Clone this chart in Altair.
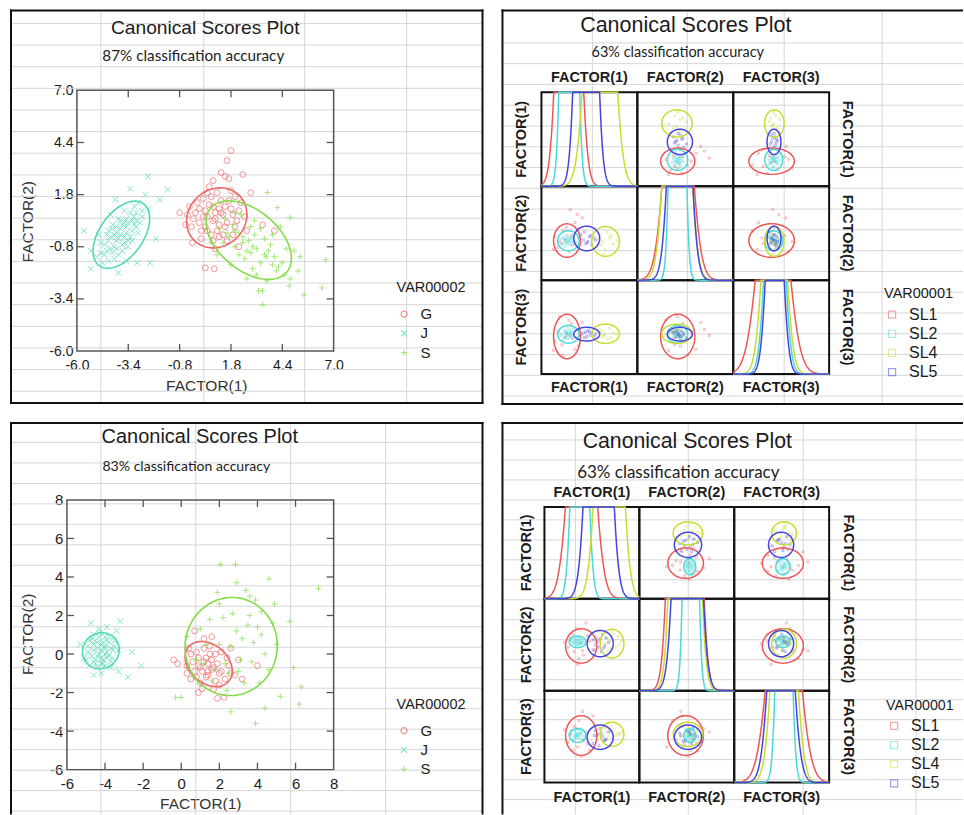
import numpy as np
import pandas as pd
import altair as alt

# ----------------------------------------------------------------- texts
TITLE = "Canonical Scores Plot"
SUB_TL = "87% classification accuracy"
SUB_TR = "63% classification accuracy"
SUB_BL = "83% classification accuracy"
SUB_BR = "63% classification accuracy"
AXIS_X = "FACTOR(1)"
AXIS_Y = "FACTOR(2)"
FACTORS = ["FACTOR(1)", "FACTOR(2)", "FACTOR(3)"]

SC_LEGEND = "VAR00002"
SC_GROUPS = ["G", "J", "S"]
SL_LEGEND = "VAR00001"
SL_GROUPS = ["SL1", "SL2", "SL4", "SL5"]

TL_TICKS = [-6.0, -3.4, -0.8, 1.8, 4.4, 7.0]
BL_TICKS = [-6, -4, -2, 0, 2, 4, 6, 8]

# ----------------------------------------------------------------- top-left scores (x, y)
TL_G = [(1.0, 0.6), (0.5, 1.0), (1.5, 0.2), (0.2, 0.4), (1.8, 1.1), (0.8, -0.2), (1.3, 1.5), (0.0, 0.9),
        (2.1, 0.5), (0.6, 0.0), (1.1, 1.9), (-0.2, 0.2), (1.6, -0.5), (0.9, 1.2), (1.4, 0.8), (0.3, -0.4),
        (2.3, 1.4), (0.7, 2.2), (1.9, -0.2), (-0.4, 0.8), (1.2, 0.3), (0.4, 1.6), (1.7, 2.6), (1.3, 2.9),
        (2.4, 2.8), (1.8, 4.0), (1.6, 3.5), (0.9, 2.5), (0.5, -1.85), (0.95, -1.9), (2.6, 0.0), (-0.15, -0.6),
        (1.0, -0.9), (2.2, -0.8), (0.1, 1.4), (3.4, 0.3), (2.8, 1.9), (4.0, 0.0), (-0.8, 0.9), (1.5, 2.7),
        (0.6, 0.7), (1.2, -0.3), (2.0, 1.7), (-0.5, 0.3), (0.9, 0.5), (1.3, 0.9), (0.4, 0.7), (1.6, 0.4),
        (0.7, 1.3), (1.9, 0.8), (0.2, 1.1), (1.1, 0.0), (1.5, 1.2), (0.5, 0.2), (2.2, 1.0), (0.8, 1.7),
        (1.0, 0.9), (1.7, 1.5), (0.3, 0.0), (1.4, -0.2), (0.6, 1.9), (2.0, 0.2), (1.2, 1.1), (-0.1, 0.6),
        (0.9, -0.5), (1.8, 2.0), (2.5, 0.7), (-0.3, 1.2)]
TL_J = [(-3.8, -0.2), (-4.3, -0.9), (-3.2, 0.5), (-4.6, -1.2), (-3.5, 0.2), (-4.0, -0.5), (-3.0, 0.9),
        (-4.8, -0.6), (-3.7, -1.0), (-3.3, -0.3), (-4.2, 0.3), (-2.8, 0.4), (-3.9, 0.6), (-4.5, -0.2),
        (-3.6, -0.6), (-3.1, 1.2), (-4.1, -1.4), (-3.4, -0.8), (-2.9, -0.1), (-4.7, -1.6), (-3.8, 0.1),
        (-4.4, 0.0), (-3.2, -0.5), (-3.6, 1.0), (-4.0, -0.9), (-5.3, -1.0), (-5.3, -1.9), (-3.3, 2.1),
        (-2.55, 1.8), (-2.4, 2.7), (-1.4, 2.05), (-1.8, 1.55), (-4.05, 1.55), (-3.9, -2.1), (-2.95, -1.6),
        (-2.3, -1.6), (-5.65, 0.0), (-2.4, 1.1), (-3.5, -1.5), (-4.9, -0.2), (-2.7, 0.7), (-4.3, 0.8),
        (-2.0, -0.4), (-5.0, -1.3), (-3.0, 0.2), (-4.2, -1.1), (-3.4, 0.4), (-3.9, -0.4), (-4.5, -1.0),
        (-3.1, 0.7), (-3.7, 0.3), (-4.3, -0.3), (-3.5, -0.1), (-4.0, 0.2), (-3.3, 0.9), (-4.6, -0.7),
        (-3.9, -1.2), (-2.9, 1.4), (-3.6, -0.3), (-4.1, -0.2), (-3.2, 0.0), (-4.4, -1.5), (-3.0, 0.5),
        (-3.8, 0.5), (-4.2, 0.1), (-3.5, 0.6), (-4.8, -1.1), (-3.4, -0.5), (-2.7, 1.0), (-4.0, -0.1),
        (-3.7, -0.7), (-4.4, -0.5), (-3.1, 0.3), (-3.6, 0.4), (-4.1, -0.8)]
TL_S = [(2.7, -0.5), (3.5, -1.2), (1.9, 0.3), (4.2, -1.8), (2.2, -0.1), (3.1, -0.9), (1.5, 0.6), (3.8, -0.7),
        (2.5, -1.4), (4.5, -2.2), (2.0, -0.8), (3.3, 0.1), (1.7, -0.3), (4.0, -1.3), (2.9, -1.9), (3.6, -2.5),
        (2.3, 0.8), (4.6, -0.9), (1.2, 0.1), (3.0, 0.5), (2.6, -2.4), (5.0, -1.0), (4.75, -2.75), (5.5, -3.2),
        (6.4, -2.85), (3.4, -3.0), (3.4, -3.7), (6.6, -1.45), (1.1, -1.2), (4.8, 0.65), (3.65, 1.9),
        (4.15, 1.15), (0.8, -0.6), (4.3, 0.2), (3.2, -3.0), (1.8, -1.7), (5.2, -2.0), (2.4, -0.3),
        (3.9, -0.2), (2.8, -1.1), (2.9, -0.8), (3.3, -1.6), (2.4, -0.6), (3.7, -1.0), (2.0, 0.0), (4.1, -2.0),
        (3.0, -0.2), (2.6, -1.0), (3.5, -0.4), (1.6, -0.1), (4.4, -1.6), (2.8, 0.2), (3.9, -1.7), (2.2, -1.2),
        (3.1, -2.2), (4.8, -2.4), (1.4, -0.6), (3.6, -1.3), (5.3, -1.3), (2.0, 0.9)]
# ellipses: group, centre x, centre y, semi-axis a, semi-axis b, angle (deg)
TL_ELL = [("G", 1.08, 0.64, 1.6, 1.42, 40), ("J", -3.75, -0.2, 1.91, 1.1, 54), ("S", 2.7, -0.47, 2.5, 1.5, -39)]

# ----------------------------------------------------------------- bottom-left scores (x, y)
BL_G = [(1.4, -0.5), (0.8, 0.1), (2.0, -1.0), (1.1, -0.9), (1.8, 0.0), (0.6, -0.4), (2.3, -1.3), (1.5, 0.4),
        (1.0, -1.5), (2.5, -0.6), (0.4, 0.3), (1.7, -1.8), (1.2, 0.8), (0.3, -1.0), (2.8, -1.1), (1.9, -2.3),
        (2.25, -2.25), (0.9, -2.0), (-0.4, -0.3), (-0.2, -0.5), (3.2, -1.3), (1.6, 0.9), (0.7, 1.2), (2.6, 0.3),
        (4.0, -0.6), (1.3, -0.2), (1.7, -0.7), (0.9, -0.6), (2.1, 0.1), (1.4, -1.1), (0.5, -1.3), (3.0, -0.3),
        (1.2, -0.4), (1.6, -0.8), (0.9, -0.2), (1.9, -0.5), (1.3, -1.2), (0.7, -0.9), (2.1, -0.9), (1.5, 0.0),
        (1.0, -0.7), (1.8, -1.4), (0.5, 0.0), (2.4, -0.2), (1.1, -1.8), (1.6, -0.3), (0.8, -1.2), (2.0, -1.6),
        (1.4, -0.9), (1.2, 0.3), (0.3, -0.6), (2.6, -1.0)]
BL_J = [(-4.2, 0.2), (-4.6, 0.5), (-3.9, -0.2), (-4.5, -0.3), (-3.8, 0.6), (-4.9, 0.1), (-4.0, 0.9),
        (-4.4, -0.7), (-3.6, 0.2), (-4.7, 0.8), (-4.1, -0.5), (-3.7, -0.4), (-5.1, -0.2), (-4.3, 1.1),
        (-3.5, 0.7), (-4.8, -0.6), (-4.0, 0.4), (-4.75, 1.6), (-3.2, 1.7), (-2.8, -1.2), (-2.1, -0.6),
        (-3.3, -0.9), (-5.3, 0.5), (-4.6, -1.1), (-3.4, 1.2), (-4.2, -1.0), (-3.9, 1.4), (-2.6, 0.1),
        (-4.4, 0.3), (-3.9, 0.1), (-4.2, -0.2), (-4.5, 0.7), (-4.3, 0.0), (-4.0, 0.3), (-4.6, 0.2),
        (-3.8, -0.1), (-4.4, 0.6), (-4.1, -0.3), (-4.7, -0.1), (-3.9, 0.7), (-4.5, -0.5), (-4.2, 0.5),
        (-3.7, 0.3), (-4.9, 0.4), (-4.0, -0.6), (-4.3, 0.9), (-3.6, -0.2), (-4.6, -0.4), (-4.1, 0.6),
        (-3.8, 0.9), (-4.8, 0.7), (-4.4, -0.1), (-3.5, 0.4), (-4.2, -0.5), (-4.0, 0.0), (-4.6, 1.0),
        (-3.3, 0.2), (-5.0, -0.3), (-3.7, -0.7), (-4.3, 1.3)]
BL_S = [(2.6, 0.4), (3.5, 1.5), (1.8, -0.8), (3.9, 2.8), (2.2, 1.9), (4.4, 0.0), (1.3, 0.5), (3.0, -0.9),
        (4.8, 1.6), (2.0, 2.6), (3.4, 3.3), (1.6, -1.4), (4.1, -1.5), (2.9, 3.7), (0.8, -0.3), (5.0, 0.5),
        (3.7, -0.4), (2.4, -1.9), (5.7, 1.7), (2.05, 4.65), (2.85, 4.65), (7.2, 3.4), (3.9, -3.6), (2.6, -3.0),
        (6.2, -2.6), (-0.3, -2.25), (0.0, -2.25), (6.3, -1.7), (5.2, -2.2), (4.6, 3.9), (3.6, 2.0), (1.0, 1.3),
        (4.4, -2.8), (5.9, -0.7), (0.3, 0.9), (3.2, 0.8), (2.3, -0.5), (4.2, 1.0), (2.9, 1.2), (3.8, 0.6),
        (2.0, 0.5), (4.2, 2.2), (3.1, -0.3), (1.5, 1.8), (4.6, -0.8), (2.7, 2.1), (3.3, -1.5), (1.9, 3.2),
        (4.0, 1.4), (2.5, -1.0), (3.6, 3.0), (1.2, -0.5), (4.9, 2.6)]
BL_ELL = [("G", 1.44, -0.52, 1.38, 1.0, -40), ("J", -4.22, 0.17, 0.98, 0.92, 30), ("S", 2.62, 0.39, 2.55, 2.42, 80)]

# ----------------------------------------------------------------- top-right scores (F1, F2, F3)
TR_SL1 = [(-2.3, -0.9, -1.5), (-1.5, -0.2, 0.3), (-2.6, -1.2, -0.4), (-1.2, 0.9, -1.9), (-2.0, -0.5, -0.9),
          (-1.7, -1.6, 0.6), (-2.9, -0.3, -1.2), (-1.0, 1.6, -0.2), (-2.2, 0.2, -2.4), (-1.4, -1.0, -1.0),
          (-0.6, 1.3, 0.4), (-2.5, -0.7, 0.9), (-1.9, 0.5, -0.6), (-3.0, -1.4, -2.0), (-1.6, 2.0, -0.7),
          (-0.9, -0.4, -1.6)]
TR_SL2 = [(-1.9, -0.8, -0.5), (-1.5, -0.4, -0.9), (-2.1, -0.6, -0.3), (-1.6, -1.0, -0.7), (-1.8, -0.3, -1.0),
          (-2.3, -0.9, -0.6), (-1.3, -0.7, -0.2), (-1.7, -0.5, -0.8), (-2.0, -1.1, -0.4), (-1.4, -0.2, -0.6),
          (-2.2, -0.4, -1.1), (-1.8, -0.9, -0.1), (-1.6, -0.6, -0.5), (-1.1, -0.8, -0.9), (-2.4, -0.5, -0.7),
          (-1.9, -0.2, -0.4), (-1.7, -0.7, -0.6), (-2.0, -0.5, -0.8), (-1.5, -0.8, -0.4), (-1.9, -0.6, -0.7),
          (-1.6, -0.4, -0.3), (-2.1, -0.8, -0.9), (-1.8, -0.7, -0.5), (-1.4, -0.5, -0.7)]
TR_SL4 = [(1.0, -1.0, -0.3), (1.8, -0.2, -0.9), (1.3, -1.4, -0.6), (0.7, -0.5, -0.2), (2.0, -0.9, -0.5),
          (1.5, 0.1, -1.0), (1.1, -0.7, -0.8), (0.6, -1.2, -0.4), (1.7, -0.4, -0.1), (1.2, -1.8, -0.7),
          (2.3, -0.6, -0.6), (0.9, -0.1, -0.5)]
TR_SL5 = [(-0.5, -0.6, -0.5), (0.1, -0.2, -0.7), (-0.3, -0.9, -0.4), (0.4, -0.4, -0.8), (-0.7, -0.1, -0.6),
          (-0.1, -0.7, -0.3), (-0.4, 0.1, -0.9), (0.2, -1.0, -0.5), (-0.8, -0.5, -0.7), (0.0, -0.3, -0.4),
          (-0.2, -0.8, -0.8), (0.5, -0.6, -0.6)]
TR_MEAN = {"SL1": (-1.87, -0.63, -0.8), "SL2": (-1.75, -0.65, -0.62),
           "SL4": (1.35, -0.7, -0.57), "SL5": (-0.22, -0.45, -0.6)}
TR_RADIUS = {"SL1": (1.12, 1.43, 1.9), "SL2": (0.9, 0.85, 0.75),
             "SL4": (1.16, 1.27, 0.82), "SL5": (1.08, 1.05, 0.58)}
# diagonal curves per factor: group -> (centre, half width at top of cell, softness)
TR_DIAG = [
    {"SL1": (-1.72, 1.25, 0.66), "SL2": (-1.68, 0.875, 0.42), "SL4": (0.875, 1.49, 0.83), "SL5": (-0.27, 1.125, 0.57)},
    {"SL1": (-0.6, 1.35, 0.89), "SL2": (-0.65, 0.79, 0.38), "SL4": (-0.68, 1.29, 0.75), "SL5": (-0.47, 1.11, 0.66)},
    {"SL1": (-0.68, 1.49, 1.07), "SL2": (-0.53, 0.94, 0.61), "SL4": (-0.58, 1.11, 0.72), "SL5": (-0.54, 0.79, 0.55)},
]

# ----------------------------------------------------------------- bottom-right scores (F1, F2, F3)
BR_SL1 = [(-1.5, -0.6, 0.9), (-0.4, 0.8, -0.6), (-1.1, -1.2, 1.4), (-0.2, 0.3, -1.2), (-1.8, 0.6, 0.2),
          (-0.7, -0.9, -0.3), (-1.3, 1.4, 0.7), (0.1, -0.4, 1.8), (-0.9, 0.1, -1.7), (-2.0, -0.2, -0.5),
          (-0.5, 1.9, 0.4), (-1.2, -1.7, -0.9), (0.4, 0.6, 0.1), (-1.6, 0.9, -1.2), (-0.8, -0.5, 2.2),
          (-2.3, 0.2, 0.6)]
BR_SL2 = [(-1.2, 0.3, 0.1), (-0.9, 0.1, 0.4), (-1.5, 0.5, -0.2), (-1.0, 0.6, 0.3), (-1.4, 0.0, 0.0),
          (-1.7, 0.3, 0.5), (-0.8, 0.4, -0.3), (-1.3, 0.7, 0.2), (-1.1, -0.1, 0.6), (-1.6, 0.2, -0.4),
          (-0.7, 0.2, 0.0), (-1.9, 0.4, 0.2), (-1.2, 0.0, -0.1), (-1.0, 0.5, 0.7), (-1.1, 0.2, 0.2),
          (-1.3, 0.4, 0.0), (-1.2, 0.1, 0.3), (-1.0, 0.3, -0.1), (-1.4, 0.3, 0.4), (-1.2, 0.5, 0.1),
          (-0.9, 0.2, 0.2), (-1.5, 0.1, 0.1)]
BR_SL4 = [(1.5, 0.3, 0.5), (2.0, -0.2, 0.1), (1.2, 0.6, -0.3), (1.8, 0.9, 0.6), (2.3, 0.0, 0.2), (1.4, -0.5, 0.0),
          (1.9, 0.4, -0.5), (1.1, 0.1, 0.8), (2.2, 0.7, 0.3), (1.6, -0.3, 0.9), (1.7, 1.2, -0.1), (2.5, 0.3, 0.4)]
BR_SL5 = [(0.5, 0.3, 0.2), (1.0, -0.3, -0.4), (0.3, 0.0, 0.5), (1.2, 0.6, -0.2), (0.8, -0.6, 0.3), (0.1, 0.4, -0.6),
          (0.9, 0.9, 0.0), (0.6, -0.2, -0.8), (1.4, 0.2, 0.4), (0.2, -0.5, 0.1), (0.7, 0.5, 0.7), (1.1, -0.1, -0.3)]
BR_MEAN = {"SL1": (-0.9, -0.1, 0.1), "SL2": (-1.2, 0.25, 0.1),
           "SL4": (1.7, 0.1, 0.2), "SL5": (0.7, 0.1, -0.05)}
BR_RADIUS = {"SL1": (1.32, 1.5, 1.73), "SL2": (0.7, 0.5, 0.6),
             "SL4": (1.0, 1.25, 1.05), "SL5": (1.1, 1.15, 1.06)}
BR_DIAG = [
    {"SL1": (-0.87, 1.36, 0.87), "SL2": (-1.02, 0.84, 0.49), "SL4": (1.46, 1.36, 0.76), "SL5": (0.57, 1.32, 0.71)},
    {"SL1": (-0.17, 1.64, 0.72), "SL2": (0.34, 0.74, 0.36), "SL4": (-0.13, 1.46, 0.67), "SL5": (0.04, 1.37, 0.7)},
    {"SL1": (0.18, 1.57, 1.06), "SL2": (0.19, 0.77, 0.42), "SL4": (0.21, 1.2, 0.75), "SL5": (-0.06, 1.2, 0.76)},
]

# ----------------------------------------------------------------- styles
FONT = "Liberation Sans"
SUBFONT = "Lato"
INK = "#1c1c1c"
GRID = "#d6d6d6"
FRAME = "#555555"
SC_COLORS = ["#ee6868", "#4ddcb2", "#84dc48"]
SC_SHAPES = ["circle", "M-1,-1L1,1M-1,1L1,-1", "M-1,0L1,0M0,-1L0,1"]
SL_COLORS = ["#ee5656", "#48dada", "#c8dc30", "#4444e0"]

ONE = pd.DataFrame({"k": [0]})

# page-pixel layout of the four pasted pictures (box = panel frame)
TL_LAY = dict(box=(10, 9, 482, 402), plot=(76, 89, 333, 350),
              segs=[(10, 9, 482, 9), (10, 9, 10, 402), (482, 9, 482, 402), (10, 402, 482, 402)],
              gv=[100, 203, 304, 406], gh0=22.0, ghs=21.66,
              title=(204.5, 27, 19.2), sub=(192.5, 55, 15.3),
              xt=(205.5, 384), yt=(27, 220), leg=(396, 280), lab=14)
BL_LAY = dict(box=(10, 422, 482, 814), plot=(66, 499, 333, 769),
              segs=[(10, 422, 482, 422), (10, 422, 10, 813), (482, 422, 482, 813)],
              gv=[100, 195, 290, 385], gh0=441.5, ghs=20.5,
              title=(199, 436, 20), sub=(185.5, 466, 14.1),
              xt=(199.5, 803), yt=(27, 633), leg=(396, 697), lab=15)
TR_LAY = dict(box=(502, 9, 963, 403), cell0=(541, 91), cw=96, ch=94,
              segs=[(502, 9, 962, 9), (502, 9, 502, 403), (502, 403, 962, 403)],
              gv=[592, 687, 784, 882], gh0=41.5, ghs=20.8,
              title=(685.5, 25, 21.5), sub=(677.5, 52, 14.5),
              top=77, bottom=387, left=522, right=847, leg=(884, 286), legfs=(14.5, 16))
BR_LAY = dict(box=(502, 422, 963, 814), cell0=(544, 506), cw=95, ch=92,
              segs=[(502, 422, 962, 422), (502, 422, 502, 813)],
              gv=[575, 688, 803, 916], gh0=439.0, ghs=20.0,
              title=(687, 441, 21.3), sub=(678, 472, 17),
              top=492, bottom=797, left=527, right=848, leg=(886, 698), legfs=(14.2, 16))


def text_at(txt, x, y, font, size, weight="normal", angle=0):
    return alt.Chart(pd.DataFrame({"t": [txt]})).mark_text(
        font=font, fontSize=size, fontWeight=weight, angle=angle, color=INK, align="center", baseline="middle"
    ).encode(text="t:N", x=alt.value(x), y=alt.value(y))


def deco_layers(lay, sub_text):
    """spreadsheet grid, panel frame and the two title lines, in panel pixels"""
    bx0, by0, bx1, by1 = lay["box"]
    W, H = bx1 - bx0, by1 - by0
    hs = [round(h - by0, 2) for h in np.arange(lay["gh0"], by1, lay["ghs"]) if h > by0 + 2]
    vs = [v - bx0 for v in lay["gv"]]
    xs = alt.Scale(domain=[0, W], range=[0, W], nice=False, zero=False)
    ys = alt.Scale(domain=[0, H], range=[0, H], nice=False, zero=False)
    gh = alt.Chart(pd.DataFrame({"gy": hs})).mark_rule(color=GRID, strokeWidth=1).encode(
        y=alt.Y("gy:Q", scale=ys, axis=None), x=alt.value(0), x2=alt.value(W))
    gv = alt.Chart(pd.DataFrame({"gx": vs})).mark_rule(color=GRID, strokeWidth=1).encode(
        x=alt.X("gx:Q", scale=xs, axis=None), y=alt.value(0), y2=alt.value(H))
    out = [gh, gv]
    for (x0, y0, x1, y1) in lay["segs"]:
        enc = dict(x=alt.value(x0 - bx0), y=alt.value(y0 - by0))
        if x1 != x0:
            enc["x2"] = alt.value(x1 - bx0)
        if y1 != y0:
            enc["y2"] = alt.value(y1 - by0)
        out.append(alt.Chart(ONE).mark_rule(color="#111111", strokeWidth=2, strokeCap="square").encode(**enc))
    tx, ty, tfs = lay["title"]
    sx, sy, sfs = lay["sub"]
    out.append(text_at(TITLE, tx - bx0, ty - by0, FONT, tfs))
    out.append(text_at(sub_text, sx - bx0, sy - by0, SUBFONT, sfs))
    return out


def ellipse_rows(grp, cx, cy, a, b, ang, n=96):
    t = np.linspace(0, 2 * np.pi, n + 1)
    th = np.deg2rad(ang)
    ex, ey = a * np.cos(t), b * np.sin(t)
    xs = cx + ex * np.cos(th) - ey * np.sin(th)
    ys = cy + ex * np.sin(th) + ey * np.cos(th)
    return [(grp, i, round(x, 4), round(y, 4)) for i, (x, y) in enumerate(zip(xs, ys))]


def scatter_panel(groups, ells, ticks, fmt, lay, sub_text):
    bx0, by0, bx1, by1 = lay["box"]
    W, H = bx1 - bx0, by1 - by0
    p0, q0, p1, q1 = lay["plot"]
    px0, py0, px1, py1 = p0 - bx0, q0 - by0, p1 - bx0, q1 - by0
    dom = [ticks[0], ticks[-1]]
    rows = [(g, x, y) for g, pts in zip(SC_GROUPS, groups) for (x, y) in pts]
    pts_df = pd.DataFrame(rows, columns=["grp", "x", "y"])
    ell_rows = []
    for (g, cx, cy, a, b, ang) in ells:
        ell_rows += ellipse_rows(g, cx, cy, a, b, ang)
    ell_df = pd.DataFrame(ell_rows, columns=["grp", "t", "x", "y"])
    xs = alt.Scale(domain=dom, range=[px0, px1], nice=False, zero=False)
    ys = alt.Scale(domain=dom, range=[py1, py0], nice=False, zero=False)
    expr = f"datum.value < 0 ? '-' + format(-datum.value, '{fmt}') : format(datum.value, '{fmt}')"
    common = dict(values=ticks, labelExpr=expr, ticks=False, domain=False, grid=False,
                  labelFont=FONT, labelFontSize=lay["lab"], labelColor=INK,
                  labelFlush=False, labelOverlap=False, labelBound=False,
                  titleFont=FONT, titleFontSize=15.5, titleFontWeight="normal", titleColor="#333333",
                  titleAlign="center", titleBaseline="middle")
    xa = alt.Axis(orient="bottom", offset=-(H - py1), labelPadding=7, title=AXIS_X,
                  titleX=lay["xt"][0] - bx0, titleY=lay["xt"][1] - q1, titleAngle=0, **common)
    ya = alt.Axis(orient="left", offset=-px0, labelPadding=4, title=AXIS_Y,
                  titleX=lay["yt"][0] - p0, titleY=lay["yt"][1] - by0, titleAngle=270, **common)
    cscale = alt.Scale(domain=SC_GROUPS, range=SC_COLORS)
    sscale = alt.Scale(domain=SC_GROUPS, range=SC_SHAPES)
    leg = alt.Legend(title=SC_LEGEND, orient="none", legendX=lay["leg"][0] - bx0, legendY=lay["leg"][1] - by0,
                     padding=0, titleFont=FONT, titleFontSize=14.5, titleFontWeight="normal", titleColor=INK,
                     titlePadding=11, labelFont=FONT, labelFontSize=15, labelColor=INK, labelOffset=9,
                     symbolSize=36, symbolStrokeWidth=1.2, rowPadding=3.3)
    inner = pd.DataFrame({"v": ticks[1:-1]})
    tick_style = dict(color=FRAME, strokeWidth=1.3)
    t_bottom = alt.Chart(inner).mark_rule(**tick_style).encode(
        x=alt.X("v:Q", scale=xs, axis=xa), y=alt.value(py1), y2=alt.value(py1 - 7))
    t_top = alt.Chart(inner).mark_rule(**tick_style).encode(
        x=alt.X("v:Q", scale=xs, axis=xa), y=alt.value(py0), y2=alt.value(py0 + 7))
    t_left = alt.Chart(inner).mark_rule(**tick_style).encode(
        y=alt.Y("v:Q", scale=ys, axis=ya), x=alt.value(px0), x2=alt.value(px0 + 7))
    t_right = alt.Chart(inner).mark_rule(**tick_style).encode(
        y=alt.Y("v:Q", scale=ys, axis=ya), x=alt.value(px1), x2=alt.value(px1 - 7))
    frame = alt.Chart(ONE).mark_rect(fill="transparent", stroke=FRAME, strokeWidth=1.5).encode(
        x=alt.value(px0), x2=alt.value(px1), y=alt.value(py0), y2=alt.value(py1))
    points = alt.Chart(pts_df).mark_point(filled=False, size=34, strokeWidth=1, opacity=0.7).encode(
        x=alt.X("x:Q", scale=xs, axis=xa), y=alt.Y("y:Q", scale=ys, axis=ya),
        color=alt.Color("grp:N", scale=cscale, legend=leg),
        shape=alt.Shape("grp:N", scale=sscale, legend=leg))
    ellipses = alt.Chart(ell_df).mark_line(strokeWidth=1.6).encode(
        x=alt.X("x:Q", scale=xs, axis=xa), y=alt.Y("y:Q", scale=ys, axis=ya),
        color=alt.Color("grp:N", scale=cscale, legend=leg), order="t:Q")
    data = alt.layer(frame, t_bottom, t_top, t_left, t_right, points, ellipses)
    return alt.layer(alt.layer(*deco_layers(lay, sub_text)), data).resolve_scale(
        x="independent", y="independent").properties(width=W, height=H)


def splom_panel(pts, mean, radius, diag, lay, sub_text):
    bx0, by0, bx1, by1 = lay["box"]
    W, H = bx1 - bx0, by1 - by0
    cw, ch = lay["cw"], lay["ch"]
    cx0, cy0 = lay["cell0"][0] - bx0, lay["cell0"][1] - by0
    rows = [(g, *p) for g, plist in zip(SL_GROUPS, pts) for p in plist]
    pts_df = pd.DataFrame(rows, columns=["grp", "f0", "f1", "f2"])
    cscale = alt.Scale(domain=SL_GROUPS, range=SL_COLORS)
    tfs, lfs = lay["legfs"]
    leg = alt.Legend(title=SL_LEGEND, orient="none", legendX=lay["leg"][0] - bx0, legendY=lay["leg"][1] - by0,
                     padding=0, titleFont=FONT, titleFontSize=tfs, titleFontWeight="normal", titleColor=INK,
                     titlePadding=5, labelFont=FONT, labelFontSize=lfs, labelColor=INK, labelOffset=9,
                     symbolType="square", symbolSize=50, symbolStrokeWidth=1.2, rowPadding=3.2)
    xgrid = np.round(np.linspace(-4, 4, 321), 4)

    def xsc(c):
        return alt.Scale(domain=[-4, 4], range=[cx0 + c * cw, cx0 + (c + 1) * cw], nice=False, zero=False)

    def ysc(r):
        return alt.Scale(domain=[-4, 4], range=[cy0 + (r + 1) * ch, cy0 + r * ch], nice=False, zero=False)

    borders, point_layers, ell_layers, curve_layers = [], [], [], []
    for r in range(3):
        for c in range(3):
            borders.append(alt.Chart(ONE).mark_rect(fill="transparent", stroke="#111111", strokeWidth=2).encode(
                x=alt.value(cx0 + c * cw), x2=alt.value(cx0 + (c + 1) * cw),
                y=alt.value(cy0 + r * ch), y2=alt.value(cy0 + (r + 1) * ch)))
            if r == c:
                crow = []
                for g in SL_GROUPS:
                    cc, wh, s = diag[r][g]
                    yv = np.minimum(1.0, np.exp((wh ** 2 - (xgrid - cc) ** 2) / (2 * s ** 2)))
                    crow += [(g, x, round(float(y), 4)) for x, y in zip(xgrid, yv)]
                cdf = pd.DataFrame(crow, columns=["grp", "x", "y"])
                curve_layers.append(alt.Chart(cdf).mark_line(strokeWidth=1.5).encode(
                    x=alt.X("x:Q", scale=xsc(c), axis=None),
                    y=alt.Y("y:Q", scale=alt.Scale(domain=[0, 1], range=[cy0 + (r + 1) * ch, cy0 + r * ch],
                                                   nice=False, zero=False), axis=None),
                    color=alt.Color("grp:N", scale=cscale, legend=leg)))
            else:
                erow = []
                for g in SL_GROUPS:
                    erow += ellipse_rows(g, mean[g][c], mean[g][r], radius[g][c], radius[g][r], 0, n=64)
                edf = pd.DataFrame(erow, columns=["grp", "t", "x", "y"])
                point_layers.append(alt.Chart(pts_df).mark_point(
                    shape="square", filled=False, size=4, strokeWidth=0.8, opacity=0.5).encode(
                    x=alt.X(f"f{c}:Q", scale=xsc(c), axis=None), y=alt.Y(f"f{r}:Q", scale=ysc(r), axis=None),
                    color=alt.Color("grp:N", scale=cscale, legend=leg)))
                ell_layers.append(alt.Chart(edf).mark_line(strokeWidth=1.5).encode(
                    x=alt.X("x:Q", scale=xsc(c), axis=None), y=alt.Y("y:Q", scale=ysc(r), axis=None),
                    color=alt.Color("grp:N", scale=cscale, legend=leg), order="t:Q"))
    heads = []
    for i, name in enumerate(FACTORS):
        xc = cx0 + (i + 0.5) * cw
        yc = cy0 + (i + 0.5) * ch
        heads.append(text_at(name, xc, lay["top"] - by0, FONT, 14.5, "bold"))
        heads.append(text_at(name, xc, lay["bottom"] - by0, FONT, 14.5, "bold"))
        heads.append(text_at(name, lay["left"] - bx0, yc, FONT, 14.5, "bold", 270))
        heads.append(text_at(name, lay["right"] - bx0, yc, FONT, 14.5, "bold", 90))
    leaves = deco_layers(lay, sub_text) + borders + point_layers + ell_layers + curve_layers + heads
    return alt.layer(*leaves).resolve_scale(x="independent", y="independent").properties(width=W, height=H)


tl = scatter_panel([TL_G, TL_J, TL_S], TL_ELL, TL_TICKS, ".1f", TL_LAY, SUB_TL)
bl = scatter_panel([BL_G, BL_J, BL_S], BL_ELL, BL_TICKS, "d", BL_LAY, SUB_BL)
tr = splom_panel([TR_SL1, TR_SL2, TR_SL4, TR_SL5], TR_MEAN, TR_RADIUS, TR_DIAG, TR_LAY, SUB_TR)
br = splom_panel([BR_SL1, BR_SL2, BR_SL4, BR_SL5], BR_MEAN, BR_RADIUS, BR_DIAG, BR_LAY, SUB_BR)

chart = alt.ConcatChart(
    concat=[tl, tr, bl, br], columns=2, spacing={"row": 19, "column": 20}, bounds="flush"
).resolve_scale(
    color="independent", shape="independent"
).properties(
    padding={"left": 9, "top": 8, "right": 0, "bottom": 0}, background="white"
).configure_view(strokeWidth=0)

chart.save("out.html", embed_options={"renderer": "svg", "actions": False})
